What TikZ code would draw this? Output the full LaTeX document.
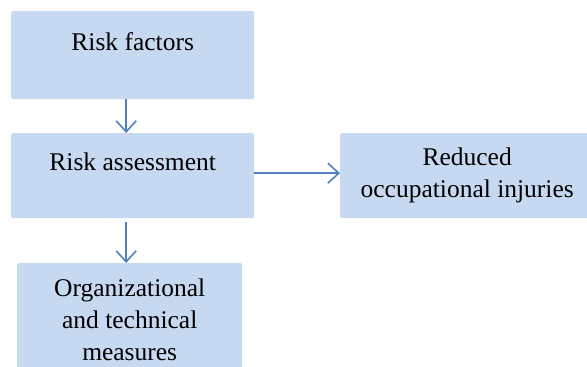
\documentclass[tikz,border=0pt]{standalone}
\usepackage{fontspec}
\setmainfont{Liberation Serif}
\newfontfamily\boxfont{Liberation Serif}
\usetikzlibrary{arrows.meta}
\definecolor{boxblue}{RGB}{198,217,240}
\definecolor{arrowblue}{RGB}{79,129,189}

\begin{document}
\begin{tikzpicture}[x=1pt, y=-1pt,
  box/.style={fill=boxblue, inner sep=0pt, anchor=north west, rounded corners=1.5pt,
    font=\boxfont\fontsize{25.5}{32}\selectfont},
  flow/.style={draw=arrowblue, line width=1.6pt, -{Straight Barb[length=11pt,width=20pt]}}]
\useasboundingbox (0,0) rectangle (587,367);

\node[box, minimum width=243pt, text height=39pt, text depth=49pt] (factors) at (11,11) {Risk factors};
\node[box, minimum width=243pt, text height=37pt, text depth=48pt] (assess) at (11,133) {Risk assessment};
\node[box, align=center, minimum width=254pt, minimum height=85pt] (result) at (340,133) {Reduced\\occupational injuries};
\node[box, align=center, minimum width=225pt, minimum height=114pt] (measures) at (17,263) {Organizational\\and technical\\measures};

\draw[flow] ([xshift=-6.5pt]factors.south) -- ([xshift=-6.5pt]assess.north);
\draw[flow, shorten <=4pt] ([xshift=-6.5pt]assess.south) -- ([xshift=-6.5pt]assess.south |- measures.north);
\draw[flow] ([yshift=2.5pt]assess.east) -- ([yshift=2.5pt]result.west);
\end{tikzpicture}
\end{document}
